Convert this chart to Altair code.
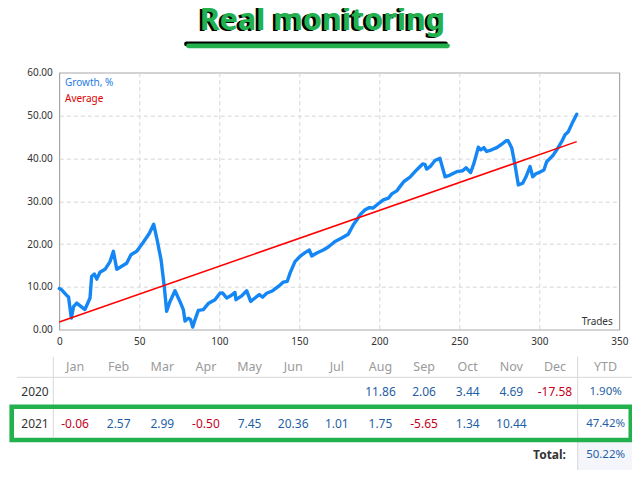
import altair as alt
import pandas as pd

# ---------------- data ----------------
trades = [0, 1.5, 5.2, 5.8, 7.5, 8.9, 10.9, 16, 19.2, 20.2, 21.9, 23.4, 25.4, 28.6, 31.7, 33.8,
          35.9, 39, 42.1, 44.8, 48.4, 52.5, 56.3, 59, 60.9, 63.6, 65.6, 67.1, 69.2, 72.3, 75.4,
          77.5, 78.6, 80.6, 82, 83.4, 84.8, 86.9, 90, 93.1, 97.3, 100.4, 102, 104.6, 107.1,
          109.8, 110.4, 114, 117.1, 119.6, 122.3, 125, 127.1, 129.6, 133.4, 136.9, 140, 142.5,
          144.2, 147.3, 150.4, 153.6, 156.3, 157.8, 160.9, 165, 168.1, 172.3, 176.5, 180.6,
          183.8, 185.9, 187.9, 191.1, 193.8, 196, 199.4, 202.5, 205.7, 207.8, 210.9, 212.9,
          215.4, 219.2, 222.3, 224.4, 227.1, 228.5, 229.6, 232.1, 234.8, 237.9, 239, 241.1,
          244.2, 248.4, 252.1, 254.2, 257.1, 259.2, 261.9, 263.4, 265.4, 267.1, 270.2, 273.4,
          276.5, 279.2, 280.5, 282.8, 284.8, 286.9, 289.6, 291.7, 294.2, 295.9, 297.9, 300.4,
          302.9, 304.6, 306.7, 308.8, 310.9, 314, 316.1, 318.1, 320.3, 323.4]
growth = [9.6, 9.3, 7.8, 7.6, 2.7, 5.4, 6.2, 4.7, 7.4, 12.4, 13.0, 11.8, 13.4, 14.1, 15.9, 18.3,
          14.1, 14.8, 15.5, 17.5, 18.3, 20.4, 22.5, 24.6, 21.4, 16.3, 10.1, 4.3, 6.6, 9.1, 6.6,
          4.7, 2.0, 2.7, 2.4, 0.6, 2.3, 4.5, 4.7, 6.1, 7.0, 8.5, 8.6, 7.4, 7.9,
          8.7, 7.0, 7.9, 9.1, 6.6, 7.4, 8.2, 7.6, 8.5, 9.1, 10.1, 11.1, 11.3,
          13.2, 15.9, 17.1, 18.0, 18.6, 17.2, 17.9, 18.6, 19.3, 20.6, 21.4, 22.3,
          24.5, 25.6, 26.8, 28.0, 28.5, 28.4, 29.4, 30.3, 30.7, 31.7, 32.4, 33.4,
          34.6, 35.6, 36.9, 37.7, 38.7, 38.6, 37.5, 38.2, 39.5, 40.0, 38.5, 35.7,
          36.1, 36.9, 37.1, 37.8, 36.7, 38.9, 42.6, 42.0, 42.5, 41.6, 42.0, 42.5,
          43.3, 44.1, 44.1, 42.4, 38.5, 33.8, 34.2, 35.7, 38.1, 35.7, 36.4, 36.8,
          37.3, 39.2, 40.0, 40.8, 42.0, 43.9, 45.5, 46.2, 48.0, 50.3]
avg_trades = [0, 323.4]
avg_growth = [1.8, 43.9]

x_ticks = [0, 50, 100, 150, 200, 250, 300, 350]
y_ticks = [0, 10, 20, 30, 40, 50, 60]

months = ["Jan", "Feb", "Mar", "Apr", "May", "Jun", "Jul", "Aug", "Sep", "Oct", "Nov", "Dec"]
years = ["2020", "2021"]
vals_2020 = [None, None, None, None, None, None, None, 11.86, 2.06, 3.44, 4.69, -17.58]
vals_2021 = [-0.06, 2.57, 2.99, -0.50, 7.45, 20.36, 1.01, 1.75, -5.65, 1.34, 10.44, None]
ytd_values = [1.90, 47.42]
total_value = 50.22

title_text = "Real monitoring"

# ---------------- tables built from the arrays ----------------
growth_df = pd.DataFrame({"trade": trades, "growth": growth})
avg_df = pd.DataFrame({"trade": avg_trades, "growth": avg_growth})

cells = []
for yr, vals in zip(years, [vals_2020, vals_2021]):
    for m, v in zip(months, vals):
        if v is not None:
            cells.append({"col": m, "row": yr, "label": f"{v:.2f}",
                          "sign": "neg" if v < 0 else "pos"})
cells_df = pd.DataFrame(cells)
ytd_df = pd.DataFrame({"col": ["YTD"] * 2, "row": years,
                       "label": [f"{v:.2f}%" for v in ytd_values]})
year_df = pd.DataFrame({"col": ["Year"] * 2, "row": years, "label": years})
head_df = pd.DataFrame({"col": months, "label": months})
head_ytd_df = pd.DataFrame({"col": ["YTD"], "label": ["YTD"]})
total_lbl_df = pd.DataFrame({"col": ["Dec"], "row": ["Total"], "label": ["Total:"]})
total_val_df = pd.DataFrame({"col": ["YTD"], "row": ["Total"], "label": [f"{total_value:.2f}%"]})
one = pd.DataFrame({"a": [0]})

FONT = "Noto Sans"
GREEN = "#22b14c"
BLUE_TXT = "#1f5fa6"
RED_TXT = "#c4001a"
YTD_DX = 7

# ---------------- line chart ----------------
x_enc = alt.X("trade:Q",
              scale=alt.Scale(domain=[0, 350], nice=False, zero=False),
              axis=alt.Axis(values=x_ticks, format="d", title=None, ticks=False, domain=False,
                            labelFont=FONT, labelFontSize=10, labelColor="#333333",
                            labelPadding=7, labelFlush=False,
                            gridColor="#d6d6d6", gridDash=[4, 3],
                            gridOpacity={"condition": {"test": "datum.value == 0 || datum.value == 350",
                                                       "value": 0}, "value": 1}))
y_enc = alt.Y("growth:Q",
              scale=alt.Scale(domain=[0, 60], nice=False),
              axis=alt.Axis(values=y_ticks, format=".2f", title=None, ticks=False, domain=False,
                            labelFont=FONT, labelFontSize=10, labelColor="#333333",
                            labelPadding=7, labelFlush=False,
                            gridColor="#d6d6d6", gridDash=[4, 3],
                            gridOpacity={"condition": {"test": "datum.value == 0 || datum.value == 60",
                                                       "value": 0}, "value": 1}))

growth_line = alt.Chart(growth_df).mark_line(
    color="#1487f5", strokeWidth=3.4, strokeJoin="round", strokeCap="round"
).encode(x=x_enc, y=y_enc)

avg_line = alt.Chart(avg_df).mark_line(color="#ff0000", strokeWidth=1.5).encode(
    x="trade:Q", y="growth:Q")

leg1 = alt.Chart(one).mark_text(align="left", baseline="middle", font=FONT, fontSize=10,
                                color="#1e7be6").encode(
    x=alt.value(5.7), y=alt.value(10.6), text=alt.value("Growth, %"))
leg2 = alt.Chart(one).mark_text(align="left", baseline="middle", font=FONT, fontSize=10,
                                color="#e00000").encode(
    x=alt.value(5.7), y=alt.value(26), text=alt.value("Average"))
trades_lbl = alt.Chart(one).mark_text(align="right", baseline="middle", font=FONT, fontSize=10,
                                      color="#333333").encode(
    x=alt.value(553.5), y=alt.value(249), text=alt.value("Trades"))

line_part = alt.layer(growth_line, avg_line, leg1, leg2, trades_lbl)

# ---------------- table ----------------
cols = ["Year"] + months + ["YTD"]
rows = years + ["Total"]
tx = alt.X("col:N", scale=alt.Scale(type="point", domain=cols, range=[-27.9, 539.3], padding=0),
           axis=None)
ty = alt.Y("row:N", scale=alt.Scale(type="point", domain=rows, range=[319.6, 382.3], padding=0),
           axis=None)

def tmark(**kw):
    base = dict(font=FONT, fontSize=12, baseline="middle", align="center")
    base.update(kw)
    return base

cells_txt = alt.Chart(cells_df).mark_text(**tmark()).encode(
    x=tx, y=ty, text="label:N",
    color=alt.Color("sign:N", scale=alt.Scale(domain=["pos", "neg"], range=[BLUE_TXT, RED_TXT]),
                    legend=None))
ytd_txt = alt.Chart(ytd_df).mark_text(**tmark(dx=YTD_DX, color=BLUE_TXT, fontSize=11.5)).encode(
    x=tx, y=ty, text="label:N")
year_txt = alt.Chart(year_df).mark_text(**tmark(dx=3.6, color="#333333")).encode(
    x=tx, y=ty, text="label:N")
head_txt = alt.Chart(head_df).mark_text(**tmark(color="#9a9a9a", fontSize=12.5)).encode(
    x=tx, y=alt.value(294), text="label:N")
head_ytd = alt.Chart(head_ytd_df).mark_text(**tmark(dx=YTD_DX, color="#9a9a9a", fontSize=12.5)).encode(
    x=tx, y=alt.value(294), text="label:N")
total_lbl = alt.Chart(total_lbl_df).mark_text(**tmark(align="right", dx=11, color="#333333",
                                                      fontWeight="bold")).encode(
    x=tx, y=ty, text="label:N")
total_val = alt.Chart(total_val_df).mark_text(**tmark(dx=YTD_DX, color=BLUE_TXT, fontSize=11.5)).encode(
    x=tx, y=ty, text="label:N")

total_bg = alt.Chart(one).mark_rect(color="#f4f6fc").encode(
    x=alt.value(518.7), x2=alt.value(575), y=alt.value(368.5), y2=alt.value(397.3))
hline = alt.Chart(one).mark_rule(color="#d8d8d8", strokeWidth=1).encode(
    x=alt.value(-42.3), x2=alt.value(575), y=alt.value(304.6))
vline1 = alt.Chart(one).mark_rule(color="#d8d8d8", strokeWidth=1).encode(
    x=alt.value(-6), y=alt.value(284), y2=alt.value(364.3))
vline2 = alt.Chart(one).mark_rule(color="#d8d8d8", strokeWidth=1).encode(
    x=alt.value(518.4), y=alt.value(284), y2=alt.value(397.3))
green_box = alt.Chart(one).mark_rect(fillOpacity=0, stroke=GREEN, strokeWidth=4.6).encode(
    x=alt.value(-47.6), x2=alt.value(571.5), y=alt.value(334), y2=alt.value(367.3))

table_part = alt.layer(total_bg, hline, vline1, vline2, head_txt, head_ytd, year_txt,
                       cells_txt, ytd_txt, total_lbl, total_val, green_box)

# ---------------- title ----------------
title_shadow = alt.Chart(one).mark_text(font=FONT, fontSize=30.5, fontWeight="bold", color="#000000",
                                        align="center", baseline="alphabetic").encode(
    x=alt.value(260.5), y=alt.value(-41.5), text=alt.value(title_text))
title_main = alt.Chart(one).mark_text(font=FONT, fontSize=30.5, fontWeight="bold", color=GREEN,
                                      align="center", baseline="alphabetic").encode(
    x=alt.value(263.2), y=alt.value(-42.7), text=alt.value(title_text))
ul_shadow = alt.Chart(one).mark_rule(color="#000000", strokeWidth=4.8, strokeCap="round").encode(
    x=alt.value(127.2), x2=alt.value(386.2), y=alt.value(-28.7))
ul_main = alt.Chart(one).mark_rule(color=GREEN, strokeWidth=4.8, strokeCap="round").encode(
    x=alt.value(129.2), x2=alt.value(388.2), y=alt.value(-26.9))

title_part = alt.layer(title_shadow, title_main, ul_shadow, ul_main)

chart = alt.layer(line_part, table_part, title_part).resolve_scale(
    x="independent", y="independent"
).properties(
    width=560, height=257,
    padding={"left": 51.3, "top": 64.7, "right": 12.7, "bottom": 142},
    autosize=alt.AutoSizeParams(type="none"),
    background="#ffffff",
).configure_view(stroke="#a8a8a8", strokeWidth=1.2)

chart.save("out.html", embed_options={"renderer": "svg", "actions": False})
